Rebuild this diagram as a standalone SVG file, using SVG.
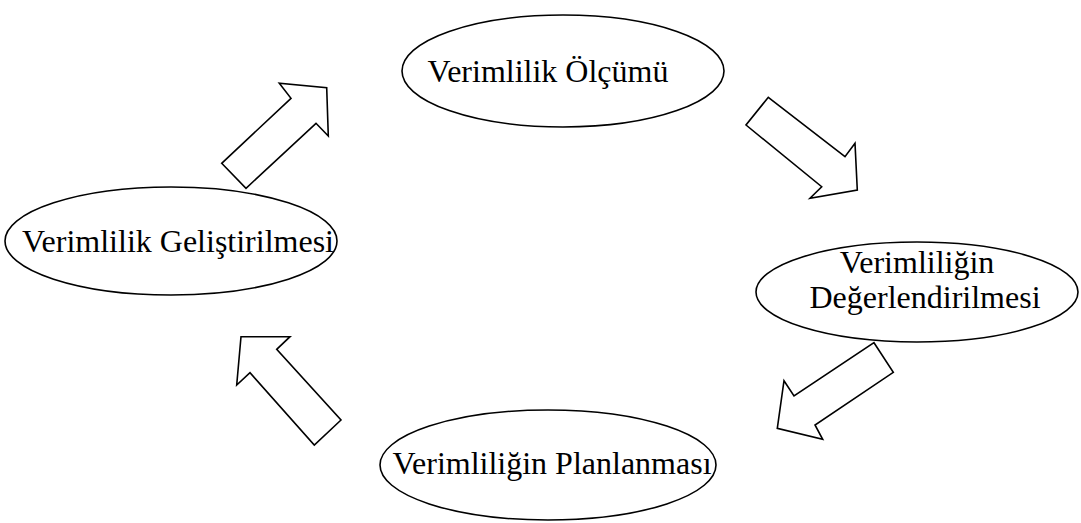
<svg xmlns="http://www.w3.org/2000/svg" width="1081" height="523" viewBox="0 0 1081 523">
  <style>
    .node ellipse { fill: #ffffff; stroke: #000000; stroke-width: 1.6; }
    .node text { font-family: "Liberation Serif", "Times New Roman", serif; font-size: 32px; fill: #000000; text-anchor: middle; }
    .arrow { fill: #ffffff; stroke: #000000; stroke-width: 1.6; stroke-linejoin: miter; }
  </style>
  <rect x="0" y="0" width="1081" height="523" fill="#ffffff"/>

  <g id="node-olcum" class="node">
    <ellipse cx="563" cy="71" rx="161" ry="56"/>
    <text x="548" y="82">Verimlilik Ölçümü</text>
  </g>

  <g id="node-degerlendirme" class="node">
    <ellipse cx="917" cy="292" rx="161" ry="50"/>
    <text x="917" y="273">Verimliliğin</text>
    <text x="925" y="308">Değerlendirilmesi</text>
  </g>

  <g id="node-planlama" class="node">
    <ellipse cx="548" cy="465" rx="168" ry="55"/>
    <text x="552" y="474">Verimliliğin Planlanması</text>
  </g>

  <g id="node-gelistirme" class="node">
    <ellipse cx="171" cy="241" rx="166" ry="54"/>
    <text x="178" y="252">Verimlilik Geliştirilmesi</text>
  </g>

  <g id="connectors">
    <!-- Gelistirme -> Olcum -->
    <polygon class="arrow" points="221.7,163.3 246,188.3 316,123.3 328.3,136 326.7,87.7 279.3,83.3 291,98.3"/>
    <!-- Olcum -> Degerlendirme -->
    <polygon class="arrow" points="768.3,97.3 845,156.7 855,143.3 857.3,190 810,198.3 821.7,186.7 746,125"/>
    <!-- Degerlendirme -> Planlama -->
    <polygon class="arrow" points="874,342.7 893.3,372.3 815,425 822.7,439.3 777.3,428.3 784,380.7 794,396"/>
    <!-- Planlama -> Gelistirme -->
    <polygon class="arrow" points="341,420 314.3,445 250,372.7 236.7,385 241,336.7 290,336.7 276.7,349.3"/>
  </g>
</svg>
